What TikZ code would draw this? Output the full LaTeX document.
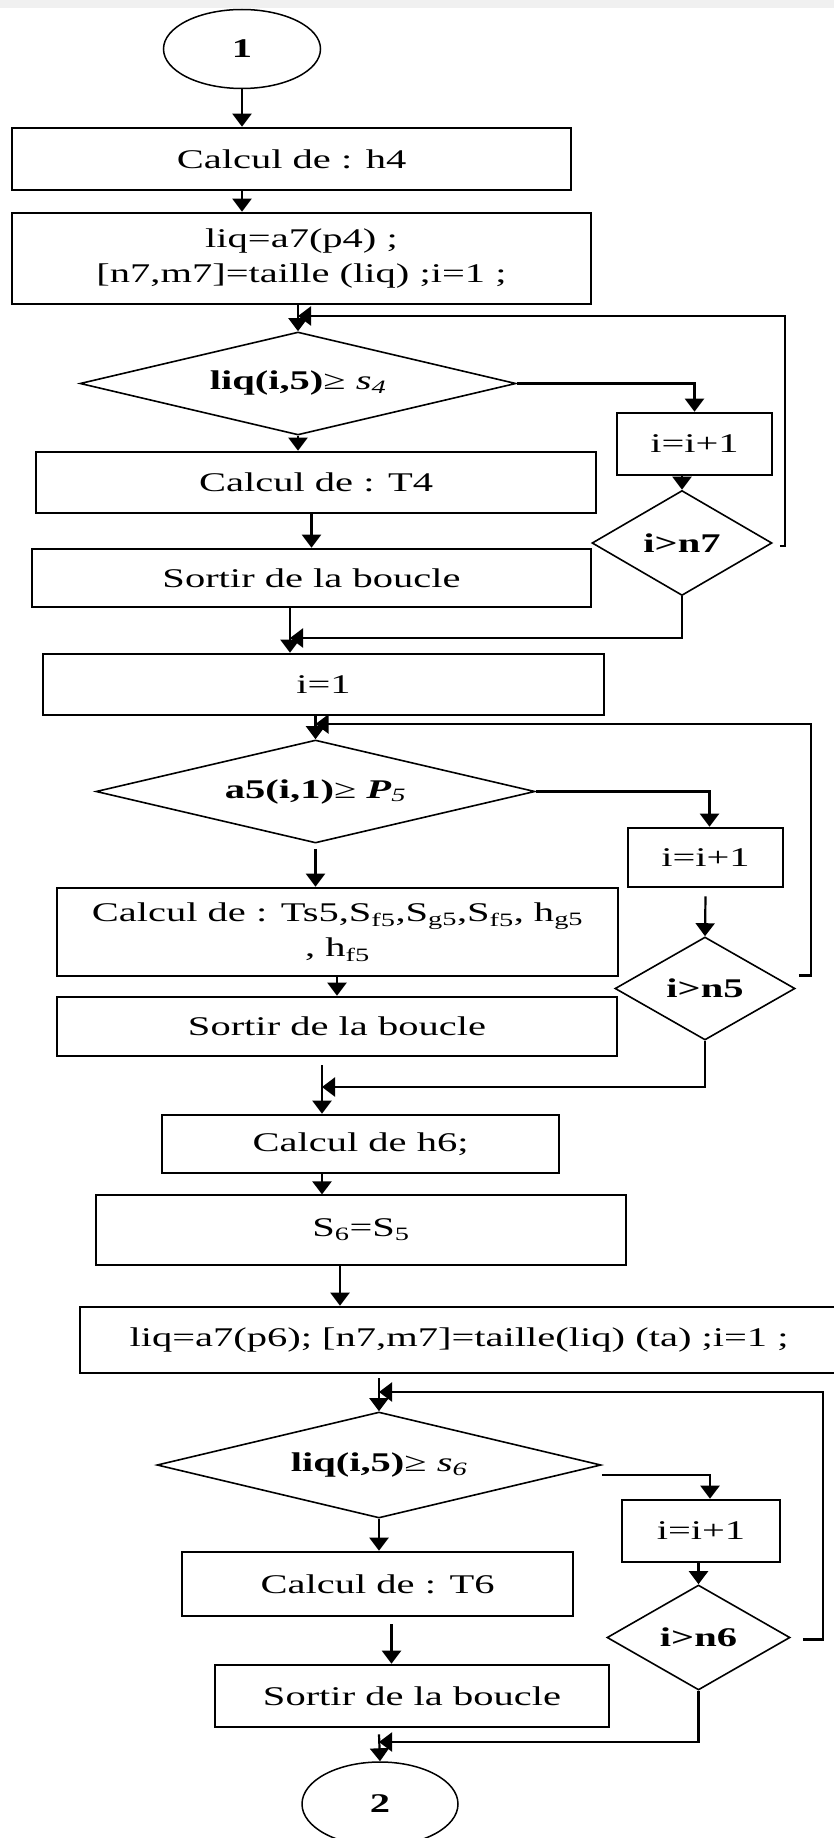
\documentclass[tikz,border=0pt]{standalone}
\usepackage{fontspec}
\setmainfont{Liberation Serif}[FakeStretch=1.5]
\usetikzlibrary{arrows.meta}
\usetikzlibrary{shapes.geometric}
\tikzset{>={Triangle[width=19pt,length=13pt]}}
\tikzset{boite/.style={draw,line width=2.6pt,inner sep=0pt,align=center}}
\tikzset{losange/.style={draw,diamond,line width=1.6pt,inner sep=0pt}}
\tikzset{bulle/.style={draw,ellipse,line width=1.5pt,inner sep=0pt}}
\tikzset{fleche/.style={->,line width=2.2pt}}

\begin{document}
\begin{tikzpicture}[x=1pt,y=-1pt,font=\fontsize{27}{35}\selectfont]
		\useasboundingbox (0,0) rectangle (834,1838);
		\fill[black!6] (0,0) rectangle (834,8);
		\coordinate (r1) at (785,316);
		\coordinate (j1) at (290,638);
		\coordinate (r2) at (811,724);
		\coordinate (j2) at (322,1087);
		\coordinate (r3) at (823,1392);
		\coordinate (j3) at (379,1742);
		\node[bulle,minimum width=157pt,minimum height=79pt] (e1) at (242,49) {\textbf{1}};
		\node[boite,minimum width=559pt,minimum height=62pt] (b1) at (291.5,159) {Calcul de : h4};
		\node[boite,minimum width=579pt,minimum height=91pt] (b2) at (301.5,258.5) {liq=a7(p4) ;\\{}[n7,m7]=taille (liq) ;i=1 ;};
		\node[losange,shape aspect=4.2,minimum width=436pt,minimum height=103pt] (d1) at (298,383.5) {\textbf{liq(i,5)}≥ \textit{s}\textsubscript{\textit{4}}};
		\node[boite,minimum width=155pt,minimum height=62pt] (p1) at (694.5,444) {i=i+1};
		\node[losange,shape aspect=1.7,minimum width=180pt,minimum height=105pt] (d2) at (682,543) {\textbf{i>n7}};
		\node[boite,minimum width=560pt,minimum height=61pt] (b3) at (316,482.5) {Calcul de : T4};
		\node[boite,minimum width=559pt,minimum height=58pt] (b4) at (311.5,578) {Sortir de la boucle};
		\node[boite,minimum width=561pt,minimum height=61pt] (b5) at (323.5,684.5) {i=1};
		\node[losange,shape aspect=4.2,minimum width=439pt,minimum height=103pt] (d3) at (315.5,791.5) {\textbf{a5(i,1)}≥ \textbf{\textit{P}}\textsubscript{\textit{5}}};
		\node[boite,minimum width=155pt,minimum height=59pt] (p2) at (705.5,857.5) {i=i+1};
		\node[losange,shape aspect=1.7,minimum width=180pt,minimum height=103pt] (d4) at (705,988.5) {\textbf{i>n5}};
		\node[boite,minimum width=561pt,minimum height=88pt] (b6) at (337.5,932) {Calcul de : Ts5,S\textsubscript{f5},S\textsubscript{g5},S\textsubscript{f5}, h\textsubscript{g5}\\, h\textsubscript{f5}};
		\node[boite,minimum width=560pt,minimum height=59pt] (b7) at (337,1026.5) {Sortir de la boucle};
		\node[boite,minimum width=397pt,minimum height=58pt] (b8) at (360.5,1144) {Calcul de h6;};
		\node[boite,line width=1.2pt,minimum width=530pt,minimum height=70pt] (b9) at (361,1230) {S\textsubscript{6}=S\textsubscript{5}};
		\node[boite,minimum width=758pt,minimum height=66pt] (b10) at (459,1340) {liq=a7(p6); [n7,m7]=taille(liq) (ta) ;i=1 ;};
		\node[losange,shape aspect=4.2,minimum width=444pt,minimum height=106pt] (d5) at (379,1465) {\textbf{liq(i,5)}≥ \textit{s}\textsubscript{\textit{6}}};
		\node[boite,minimum width=158pt,minimum height=62pt] (p3) at (701,1531) {i=i+1};
		\node[losange,shape aspect=1.7,minimum width=183pt,minimum height=105pt] (d6) at (698.5,1637.5) {\textbf{i>n6}};
		\node[boite,minimum width=391pt,minimum height=64pt] (b11) at (377.5,1584) {Calcul de : T6};
		\node[boite,minimum width=394pt,minimum height=62pt] (b12) at (412,1696) {Sortir de la boucle};
		\node[bulle,minimum width=156pt,minimum height=84pt] (e2) at (380,1804) {\textbf{2}};
		% premiere boucle
		\draw[fleche] (e1.south) -- (e1.south |- b1.north);
		\draw[fleche] (b1.south -| e1.south) -- (b2.north -| e1.south);
		\draw[fleche] (d1.north |- b2.south) -- (d1.north);
		\draw[fleche] (d1.east) -| (p1.north);
		\draw[fleche] (p1.south -| d2.north) -- (d2.north);
		\draw[fleche] ([xshift=7pt,yshift=-3pt]d2.east) -| (r1) -- (r1 -| d1.north);
		\draw[fleche] (d1.south) -- (d1.south |- b3.north);
		\draw[fleche] (b3.south -| b4.north) -- (b4.north);
		\draw[fleche] (b4.south -| j1) -- (b5.north -| j1);
		\draw[fleche] (d2.south) |- (j1);
		% deuxieme boucle
		\draw[fleche] (d3.north |- b5.south) -- (d3.north);
		\draw[fleche] (d3.east) -| ([xshift=4pt]p2.north);
		\draw[fleche] ([yshift=-8pt]p2.south) -- (d4.north);
		\draw[fleche] ([xshift=3pt,yshift=13pt]d4.east) -| (r2) -- (r2 -| d3.north);
		\draw[fleche] ([yshift=-5pt]d3.south) -- (d3.south |- b6.north);
		\draw[fleche] (b6.south -| b7.north) -- (b7.north);
		\draw[fleche] ([yshift=-8pt]b7.south -| j2) -- (b8.north -| j2);
		\draw[fleche] (d4.south) |- (j2);
		\draw[fleche] (b8.south -| j2) -- (b9.north -| j2);
		\draw[fleche] ([xshift=-21pt]b9.south) -- ([xshift=-21pt]b9.south |- b10.north);
		% troisieme boucle
		\draw[fleche] ([yshift=-4pt]d5.north |- b10.south) -- (d5.north);
		\draw[fleche] ([yshift=-10pt]d5.east) -| ([xshift=9pt]p3.north);
		\draw[fleche] (p3.south -| d6.north) -- (d6.north);
		\draw[fleche] ([xshift=12pt,yshift=-2pt]d6.east) -| (r3) -- (r3 -| d5.north);
		\draw[fleche] (d5.south) -- (d5.south |- b11.north);
		\draw[fleche] ([xshift=14pt,yshift=-7pt]b11.south) -- ([xshift=14pt]b11.south |- b12.north);
		\draw[fleche] ([yshift=-6pt]b12.south -| j3) -- (e2.north);
		\draw[fleche] (d6.south) |- (j3);
\end{tikzpicture}
\end{document}
